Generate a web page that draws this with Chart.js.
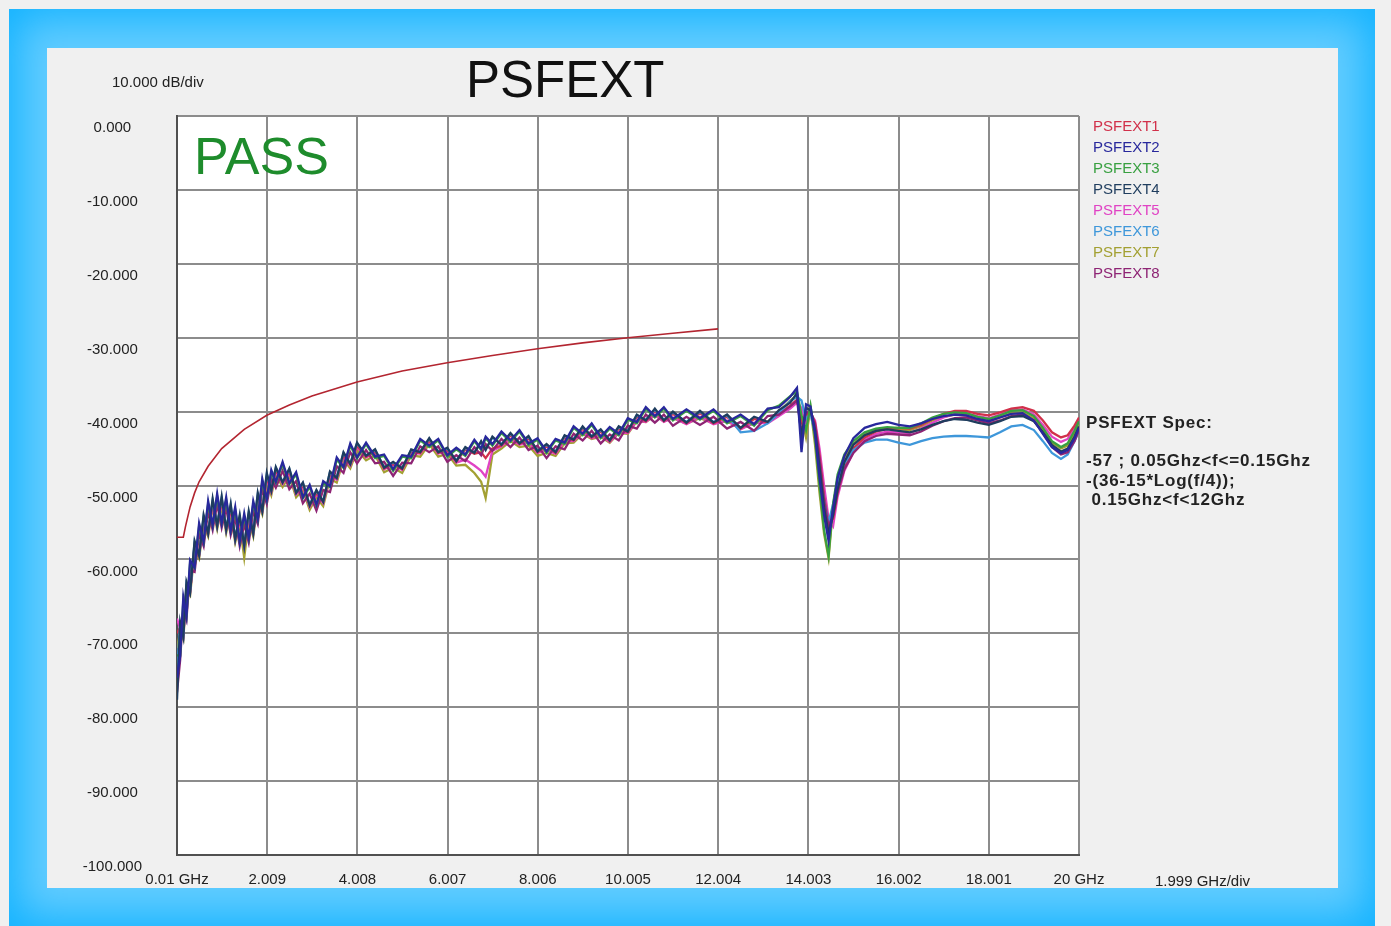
<!DOCTYPE html>
<html><head><meta charset="utf-8">
<script src="https://cdn.jsdelivr.net/npm/chart.js@4.4.1/dist/chart.umd.min.js"></script>
<style>
html,body{margin:0;padding:0;width:1391px;height:926px;overflow:hidden;background:#f0f0f0;font-family:"Liberation Sans",Arial,sans-serif;}
#frame{position:absolute;left:9px;top:9px;width:1366px;height:917px;background:#62ccff;box-shadow:inset 0 0 40px 10px #14b3ff;}
#panel{position:absolute;left:47px;top:48px;width:1291px;height:840px;background:#f0f0f0;}
canvas{position:absolute;left:0;top:0;}
.t{position:absolute;white-space:pre;color:#111;line-height:1;}
.spec{font-weight:bold;font-size:17px;letter-spacing:0.8px;color:#222;}
</style></head><body>
<div id="frame"></div><div id="panel"></div>
<canvas id="c" width="1391" height="926"></canvas>
<div class="t" style="left:112px;top:74px;font-size:15px;color:#222;">10.000 dB/div</div>
<div class="t" style="left:466px;top:54px;font-size:51px;color:#111;">PSFEXT</div>
<div class="t" style="left:194px;top:130px;font-size:52px;color:#1e8c2c;">PASS</div>
<div class="t" style="left:1155px;top:873px;font-size:15px;color:#222;">1.999 GHz/div</div>
<div class="t spec" style="left:1086px;top:414px;">PSFEXT Spec:</div>
<div class="t spec" style="left:1086px;top:452px;">-57 ; 0.05Ghz&lt;f&lt;=0.15Ghz</div>
<div class="t spec" style="left:1086px;top:472px;">-(36-15*Log(f/4));</div>
<div class="t spec" style="left:1086px;top:491px;"> 0.15Ghz&lt;f&lt;12Ghz</div>
<div id="legend"></div>
<script>
const freqs = [0.01,0.08,0.15,0.22,0.3,0.4,0.5,0.6,0.7,0.8,0.9,1.0,1.1,1.2,1.3,1.4,1.5,1.6,1.7,1.8,1.9,2.0,2.1,2.2,2.35,2.5,2.65,2.8,2.95,3.1,3.25,3.4,3.55,3.7,3.85,4.0,4.2,4.4,4.6,4.8,5.0,5.2,5.4,5.6,5.8,6.0,6.2,6.4,6.6,6.75,6.85,7.0,7.2,7.4,7.6,7.8,8.0,8.2,8.4,8.6,8.8,9.0,9.2,9.4,9.6,9.8,10.0,10.2,10.4,10.6,10.8,11.0,11.3,11.6,11.9,12.2,12.5,12.8,13.1,13.35,13.6,13.75,13.85,13.95,14.05,14.15,14.25,14.35,14.45,14.55,14.65,14.8,15.0,15.25,15.5,15.75,16.0,16.25,16.5,16.75,17.0,17.25,17.5,17.75,18.0,18.25,18.5,18.75,19.0,19.2,19.4,19.6,19.75,19.9,20.0];

const psfext1 = [-70,-69.2,-70.2,-63.7,-64.3,-58.1,-59.3,-54.6,-56.3,-52.4,-55.3,-52.1,-55.8,-53.1,-57.1,-54.6,-58.0,-54.1,-56.3,-51.6,-53.3,-48.9,
-50.7,-47.9,-49.6,-48.1,-51.0,-50.0,-52.7,-51.0,-52.2,-48.5,-49.0,-45.9,-47.1,-44.6,
-46.1,-45.4,-47.7,-47.1,-47.8,-45.4,-45.6,-43.9,-45.6,-45.2,-46.8,-45.1,-45.7,
-45.5,-46.3,-45.0,-44.6,-43.2,-44.4,-43.6,-45.5,-44.7,-45.6,-43.5,-43.9,-42.3,-43.5,-42.7,-44.0,-42.3,-42.8,-40.7,-41.3,-39.9,-41.3,-40.3,-41.6,-40.2,-41.6,-40.7,-42.3,-41.0,-41.5,
-40.2,-39.2,-38.4,-41.5,-40.5,-40,-41.5,-46,-51.5,-55,-54.5,-51,-47.5,-45,-43.5,-42.7,-42.3,-42.2,-42.3,-41.8,-41,-40.3,-39.9,-39.9,-40.3,-40.5,-40.1,-39.6,-39.4,-39.9,-41.2,-42.8,-43.5,-43.2,-41.9,-40.8];

const psfext2 = [-76,-73.1,-65.1,-67.6,-60.1,-61.1,-55.1,-57.6,-52.1,-55.4,-51.1,-55.1,-51.6,-56.1,-52.9,-57.6,-53.8,-57.1,-52.1,-54.6,-49.1,-51.9,
-47.9,-49.5,-46.8,-49.7,-48.2,-51.6,-49.9,-52.6,-49.4,-50.1,-46.2,-47.5,-44.3,-46.2,
-44.2,-46.1,-45.8,-47.8,-45.9,-46.1,-43.7,-44.6,-43.7,-45.9,-44.9,-45.8,-43.8,
-45.0,-43.4,-44.4,-42.7,-43.9,-42.5,-44.3,-43.6,-45.4,-43.7,-44.2,-42.0,-43.0,-41.6,-43.4,-42.1,-43.0,-40.9,-41.4,-39.4,-40.6,-39.4,-41.0,-39.7,-40.9,-39.7,-41.4,-40.4,-41.7,-39.6,
-39.4,-38.0,-36.8,-45.5,-39.0,-39.3,-43,-49,-54,-57.5,-53,-49,-46,-43.6,-42.2,-41.7,-41.4,-41.8,-42.0,-41.6,-41.0,-40.6,-40.4,-40.5,-41.0,-41.3,-40.8,-40.3,-40.2,-41.2,-43.0,-44.8,-45.6,-45.2,-43.6,-42.2];

const psfext3 = [-73,-73.0,-65.6,-67.5,-60.5,-61.1,-55.5,-57.6,-52.5,-55.4,-51.5,-55.1,-52.0,-56.1,-53.3,-57.6,-54.2,-57.1,-52.5,-54.6,-49.5,-51.9,
-48.2,-49.6,-47.1,-49.8,-48.5,-51.7,-50.2,-52.7,-49.7,-50.2,-46.5,-47.6,-44.6,-46.3,
-44.4,-46.3,-46.0,-48.0,-46.1,-46.3,-43.9,-44.8,-43.9,-46.1,-45.1,-46.0,-44.0,
-45.2,-43.6,-44.6,-42.9,-44.1,-42.7,-44.5,-43.8,-45.6,-43.9,-44.4,-42.2,-43.2,-41.8,-43.6,-42.3,-43.2,-41.1,-41.6,-39.6,-40.8,-39.6,-41.2,-39.9,-41.1,-39.9,-41.6,-40.6,-41.9,-39.8,
-39.2,-37.9,-37.3,-40.5,-42.5,-39.2,-43.5,-50,-56,-59.5,-52.5,-48.5,-45.8,-44,-42.8,-42.3,-42.1,-42.2,-42.2,-41.6,-40.8,-40.3,-40.1,-40.2,-40.7,-41,-40.5,-39.9,-39.8,-40.6,-42.2,-44,-44.8,-44.3,-42.6,-41.3];

const psfext4 = [-79,-68.5,-70.5,-63,-64.5,-57.5,-59.5,-54,-56.5,-51.8,-55.5,-51.5,-56,-52.5,-57.3,-54,-58.2,-53.5,-56.5,-51,-53.5,-48.3,
-50.7,-47.5,-49.6,-47.7,-51,-49.6,-52.7,-50.6,-52.2,-48.1,-49,-45.5,-47.1,-44.2,
-46,-45.1,-47.6,-46.8,-47.7,-45.1,-45.5,-43.6,-45.5,-44.9,-46.7,-44.8,-45.6,
-44.0,-45.2,-43.4,-44.5,-42.9,-44.3,-43.3,-45.4,-44.4,-45.5,-43.2,-43.8,-42.0,-43.4,-42.4,-43.9,-42.0,-42.7,-40.4,-41.2,-39.6,-41.2,-40.0,-41.5,-39.9,-41.5,-40.4,-42.2,-40.7,-41.4,
-39.8,-38.8,-37.5,-43.5,-39.5,-39.8,-42.5,-47.5,-53,-56.5,-54,-50.5,-46.8,-44.5,-43.2,-42.6,-42.4,-42.6,-42.8,-42.4,-41.8,-41.3,-41,-41.1,-41.5,-41.8,-41.3,-40.7,-40.6,-41.3,-42.8,-44.5,-45.4,-45,-43.4,-42];

const psfext5 = [-68,-69.4,-70.4,-63.9,-64.5,-58.3,-59.5,-54.8,-56.5,-52.6,-55.5,-52.3,-56.0,-53.3,-57.3,-54.8,-58.2,-54.3,-56.5,-51.8,-53.5,-49.1,
-50.9,-48.1,-49.8,-48.3,-51.2,-50.2,-52.9,-51.2,-52.4,-48.7,-49.2,-46.1,-47.3,-44.8,
-46.2,-45.5,-47.8,-47.2,-47.9,-45.5,-45.7,-44.0,-45.7,-45.3,-46.9,-46.5,-47.3,
-48.0,-48.8,-45.3,-44.7,-43.7,-44.5,-44.1,-45.6,-45.2,-45.7,-44.0,-44.0,-42.8,-43.6,-43.2,-44.1,-42.8,-42.9,-41.2,-41.4,-40.4,-41.4,-40.8,-41.7,-40.7,-41.7,-41.2,-42.4,-41.5,-41.6,
-40.6,-39.6,-38.8,-39.5,-41.5,-40.3,-41.2,-45,-50,-54.5,-55.5,-51.5,-48,-45.5,-43.8,-43,-42.7,-42.8,-42.9,-42.3,-41.5,-40.8,-40.3,-40.2,-40.6,-40.9,-40.4,-39.8,-39.7,-40.4,-41.8,-43.4,-44.1,-43.7,-42.3,-41.2];

const psfext6 = [-75,-68.8,-70.2,-63.3,-64.3,-57.7,-59.3,-54.2,-56.3,-52.0,-55.3,-51.7,-55.8,-52.7,-57.1,-54.2,-58.0,-53.7,-56.3,-51.2,-53.3,-48.5,
-50.6,-47.6,-49.5,-47.8,-50.9,-49.7,-52.6,-50.7,-52.1,-48.2,-48.9,-45.6,-47.0,-44.3,
-45.9,-45.2,-47.5,-46.9,-47.6,-45.2,-45.4,-43.7,-45.4,-45.0,-46.6,-44.9,-45.5,
-44.1,-45.1,-43.5,-44.4,-43.0,-44.2,-43.4,-45.3,-44.5,-45.4,-43.3,-43.7,-42.1,-43.3,-42.5,-43.8,-42.1,-42.6,-40.5,-41.1,-39.7,-41.1,-40.1,-41.4,-40.0,-41.4,-40.5,-42.8,-42.6,-41.6,
-40.2,-38.6,-38.0,-38.5,-41,-40.3,-43,-48,-52,-55,-52.5,-49.5,-47,-45.2,-44.2,-43.8,-43.8,-44.2,-44.5,-44,-43.6,-43.4,-43.3,-43.3,-43.4,-43.5,-42.8,-42,-41.8,-42.5,-44,-45.6,-46.4,-45.8,-44,-42.6];

const psfext7 = [-72,-69.8,-70.8,-64.3,-64.9,-58.7,-59.9,-55.2,-56.9,-53.0,-55.9,-52.7,-56.4,-53.7,-57.7,-55.2,-59.8,-54.7,-56.9,-52.2,-53.9,-49.5,
-51.3,-48.5,-50.2,-48.7,-51.6,-50.6,-53.3,-51.6,-52.8,-49.1,-49.6,-46.5,-47.7,-45.2,
-46.6,-45.9,-48.2,-47.6,-48.3,-45.9,-46.1,-44.4,-46.1,-45.7,-47.3,-47.2,-48.3,
-49.5,-51.7,-45.8,-45.0,-44.0,-44.8,-44.6,-46.0,-45.6,-46.0,-44.3,-44.2,-43.0,-43.7,-43.4,-44.2,-42.9,-43.0,-41.3,-41.4,-40.5,-41.3,-40.9,-41.6,-40.9,-41.6,-41.3,-42.3,-41.6,-41.4,
-40.0,-38.5,-37.8,-40.5,-43.5,-39.5,-44.5,-51,-56.5,-59.8,-53,-49,-46.2,-44.4,-43.1,-42.5,-42.3,-42.4,-42.5,-42,-41.2,-40.7,-40.4,-40.5,-41,-41.3,-40.8,-40.2,-40.1,-40.9,-42.5,-44.2,-45,-44.6,-43,-41.8];

const psfext8 = [-78,-73.6,-66.6,-68.1,-61.5,-61.7,-56.5,-58.2,-53.5,-56.0,-52.5,-55.7,-53.0,-56.7,-54.3,-58.2,-55.2,-57.7,-53.5,-55.2,-50.5,-52.5,
-49.1,-50.3,-48.0,-50.5,-49.4,-52.4,-51.1,-53.4,-50.6,-50.9,-47.4,-48.3,-45.5,-47.0,
-45.2,-47.0,-46.8,-48.7,-46.9,-47.0,-44.7,-45.5,-44.7,-46.8,-45.9,-46.7,-44.8,
-45.9,-44.4,-45.3,-43.7,-44.8,-43.5,-45.2,-44.6,-46.3,-44.7,-45.1,-43.0,-43.9,-42.6,-44.3,-43.1,-43.9,-41.9,-42.3,-40.4,-41.5,-40.4,-41.9,-40.7,-41.8,-40.7,-42.3,-41.4,-42.6,-40.6,
-40.4,-39.3,-38.5,-42.8,-40.2,-39.9,-41.8,-46.5,-52,-55.5,-54,-50.8,-47.8,-45.6,-44,-43.3,-43,-43.1,-43.2,-42.7,-41.9,-41.3,-40.9,-40.8,-41.2,-41.6,-41.2,-40.6,-40.4,-41.2,-42.9,-44.8,-45.8,-45.5,-44,-42.5];

const specFreqs = [0.01,0.15,0.2,0.3,0.4,0.5,0.7,1,1.5,2,2.5,3,4,5,6,7,8,9,10,11,12];
const specDb = [-57,-57,-55.5,-52.9,-51,-49.5,-47.4,-45,-42.4,-40.5,-39.1,-37.9,-36,-34.5,-33.4,-32.4,-31.5,-30.7,-30,-29.4,-28.8];

const seriesNames = ['PSFEXT1','PSFEXT2','PSFEXT3','PSFEXT4','PSFEXT5','PSFEXT6','PSFEXT7','PSFEXT8'];
const seriesColors = ['#d1304a','#28289c','#38a040','#1f3d5e','#e043c4','#3e97da','#a3a032','#8e2474'];
const xTickValues = [0.01,2.009,4.008,6.007,8.006,10.005,12.004,14.003,16.002,18.001,20];
const xTickLabels = ['0.01 GHz','2.009','4.008','6.007','8.006','10.005','12.004','14.003','16.002','18.001','20 GHz'];
const yTickValues = [-100,-90,-80,-70,-60,-50,-40,-30,-20,-10,0];
const yTickLabels = ['-100.000','-90.000','-80.000','-70.000','-60.000','-50.000','-40.000','-30.000','-20.000','-10.000','0.000'];

const seriesData = [psfext1,psfext2,psfext3,psfext4,psfext5,psfext6,psfext7,psfext8];
const drawOrder = [6,1,3,2,7,5,8,4];

const datasets = seriesData.map((arr,i)=>({
  label: seriesNames[i],
  data: freqs.map((f,j)=>({x:f,y:arr[j]})),
  borderColor: seriesColors[i], borderWidth:2.3, pointRadius:0, fill:false, tension:0,
  order: drawOrder[i]
}));
datasets.push({label:'Spec', data: specFreqs.map((f,j)=>({x:f,y:specDb[j]})), borderColor:'#b32530', borderWidth:1.6, pointRadius:0, fill:false, tension:0, order:0});

const bgPlugin = {id:'bg', beforeDraw(chart){const {ctx, chartArea:a}=chart; ctx.save(); ctx.fillStyle='#ffffff'; ctx.fillRect(a.left,a.top,a.right-a.left,a.bottom-a.top); ctx.restore();}};

const tickFont = {family:'"Liberation Sans", Arial, sans-serif', size:15};
new Chart(document.getElementById('c'), {
  type:'line',
  data:{datasets},
  plugins:[bgPlugin],
  options:{
    responsive:false, animation:false, devicePixelRatio:1,
    layout:{padding:{left:0,top:116,right:312,bottom:0}},
    plugins:{legend:{display:false}, tooltip:{enabled:false}},
    scales:{
      x:{type:'linear', min:0.01, max:20,
        afterBuildTicks: s => { s.ticks = xTickValues.map(v=>({value:v})); },
        afterFit: s => { s.height = 71; },
        ticks:{autoSkip:false, maxRotation:0, padding:16, color:'#222', font:tickFont, callback:(v,i)=>xTickLabels[i]},
        grid:{color:'#8c8c8c', lineWidth:2, drawTicks:false},
        border:{color:'#505050', width:2}},
      y:{min:-100, max:0,
        afterBuildTicks: s => { s.ticks = yTickValues.map(v=>({value:v})); },
        afterFit: s => { s.width = 177; },
        ticks:{crossAlign:'center', padding:35, labelOffset:12, color:'#222', font:tickFont, callback:(v,i)=>yTickLabels[i]},
        grid:{color:'#8c8c8c', lineWidth:2, drawTicks:false},
        border:{color:'#505050', width:2}}
    }
  }
});

const lg = document.getElementById('legend');
seriesNames.forEach((n,i)=>{
  const d = document.createElement('div');
  d.className='t'; d.textContent=n;
  d.style.left='1093px'; d.style.top=(117.5+21*i)+'px'; d.style.fontSize='15px'; d.style.color=seriesColors[i];
  lg.appendChild(d);
});
</script>
</body></html>
